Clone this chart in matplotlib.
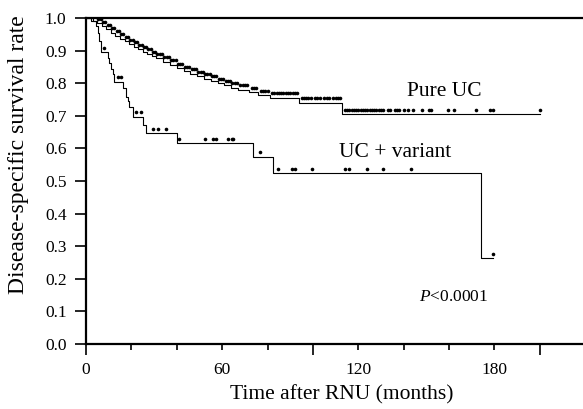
import numpy as np
import matplotlib
matplotlib.use("Agg")
import matplotlib.pyplot as plt

# Kaplan-Meier step values (time in months, survival)
pure_t = [0, 3, 5, 7, 9, 11, 13, 15, 17, 19, 21, 23, 25, 27, 29, 31, 34, 37, 40,
          43, 46, 49, 52, 55, 58, 61, 64, 67, 72, 76, 81, 94, 113]
pure_s = [1.0, 0.992, 0.984, 0.975, 0.965, 0.955, 0.945, 0.936, 0.928, 0.92,
          0.912, 0.904, 0.897, 0.89, 0.883, 0.876, 0.866, 0.856, 0.846, 0.836,
          0.828, 0.821, 0.814, 0.807, 0.8, 0.793, 0.786, 0.779, 0.772, 0.763,
          0.755, 0.74, 0.705]
pure_end = 200
pure_cens = [3, 4, 5.5, 6.5, 7.5, 8.5, 9.5, 10.5, 11.5, 12.5, 13.5, 14.5, 15.5,
             16.5, 17.5, 18.5, 19.5, 20.5, 21.5, 22.5, 23.5, 24.5, 25.5, 26.5,
             27.5, 28.5, 29.5, 30.5, 31.5, 32.5, 33.5, 34.5, 35.5, 36.5, 37.5,
             38.5, 39.5, 40.5, 41.5, 42.5, 43.5, 44.5, 45.5, 46.5, 47.5, 48.5,
             49.5, 50.5, 51.5, 52.5, 53.5, 54.5, 55.5, 56.5, 57.5, 58.5, 59.5,
             60.5, 61.5, 62.5, 63.5, 64.5, 65.5, 66.5, 68, 69, 70, 71, 73, 74,
             75, 77, 78, 79, 80, 82, 83, 84, 85, 86, 87, 88, 89, 90, 91, 92, 93,
             95, 96, 97, 98, 99, 101, 102, 103, 105, 106, 107, 109, 110, 111,
             112, 114, 115, 116, 117, 118, 119, 120, 121, 122, 123, 124, 125,
             126, 127, 128, 129, 130, 131, 133, 134, 136, 137, 138, 140, 142,
             144, 148, 151, 152, 159.5, 162, 172, 178, 179.5, 200]

var_t = [0, 2.2, 4.4, 5.1, 5.9, 6.6, 9.5, 10.3, 11, 11.7, 12.5, 16.2, 17.6,
         18.5, 19, 20.5, 25, 26.4, 40, 73.7, 82.5, 174]
var_s = [1.0, 0.99, 0.975, 0.955, 0.93, 0.895, 0.878, 0.862, 0.845, 0.828,
         0.805, 0.784, 0.759, 0.744, 0.728, 0.697, 0.672, 0.646, 0.615, 0.575,
         0.524, 0.263]
var_end = 179.5
var_cens = [7.9, 14, 15.5, 22, 24.2, 29.4, 31.6, 35.2, 41, 52.4, 56, 57.5,
            62.7, 64.2, 64.9, 76.5, 84.6, 90.7, 92, 99.6, 114, 116, 124, 131,
            143, 179.5]

x_labels = {0: "0", 60: "60", 120: "120", 180: "180"}

plt.rcParams["font.family"] = ["Liberation Serif", "DejaVu Serif"]
plt.rcParams["mathtext.fontset"] = "custom"
plt.rcParams["mathtext.rm"] = "Liberation Serif"
plt.rcParams["mathtext.it"] = "Liberation Serif:italic"

fig = plt.figure(figsize=(5.83, 4.09), dpi=100)
ax = fig.add_axes([0.1475, 0.159, 0.8525, 0.797])


def km_line(ax, t, s, end, cens):
    tt = list(t) + [end]
    ss = list(s) + [s[-1]]
    ax.step(tt, ss, where="post", color="black", lw=0.8, zorder=2)
    idx = np.searchsorted(t, cens, side="right") - 1
    cy = np.array(s)[idx] + 0.014
    ax.plot(cens, cy, ls="none", marker="o", ms=2.6, color="black",
            mew=0, zorder=3)


km_line(ax, pure_t, pure_s, pure_end, pure_cens)
km_line(ax, var_t, var_s, var_end, var_cens)

ax.text(158, 0.775, "Pure UC", fontsize=15.5, ha="center", va="center")
ax.text(136, 0.588, "UC + variant", fontsize=15.5, ha="center", va="center")
ax.text(162, 0.144, "$\\it{P}$<0.0001", fontsize=12.5, ha="center", va="center")

ax.set_xlim(0, 219)
ax.set_ylim(0, 1.0)
ax.set_xticks(list(x_labels.keys()))
ax.set_xticklabels(list(x_labels.values()))
ax.set_xticks([20, 40, 80, 100, 140, 160, 200], minor=True)
ax.set_yticks(np.round(np.arange(0, 1.01, 0.1), 1))
ax.set_yticklabels([f"{v:.1f}" for v in np.arange(0, 1.01, 0.1)])

ax.tick_params(axis="x", which="both", direction="out", length=4, width=1.2,
               labelsize=12.5, pad=9)
ax.tick_params(axis="y", direction="out", length=8, width=1.2,
               labelsize=12.5, pad=6)
# longer ticks at 0, 100 and 200 as in the original
ax.xaxis.get_major_ticks()[0].tick1line.set_markersize(8)
for tk, loc in zip(ax.xaxis.get_minor_ticks(), [20, 40, 80, 100, 140, 160, 200]):
    if loc in (100, 200):
        tk.tick1line.set_markersize(8)

for side in ["left", "bottom", "top"]:
    ax.spines[side].set_linewidth(1.6)
ax.spines["right"].set_visible(False)

ax.set_xlabel("Time after RNU (months)", fontsize=15.5)
ax.set_ylabel("Disease-specific survival rate", fontsize=17)
ax.yaxis.label.set_va("center")
ax.xaxis.set_label_coords(0.514, -0.125)
ax.yaxis.set_label_coords(-0.136, 0.58)

fig.savefig("out.png", dpi=100)
